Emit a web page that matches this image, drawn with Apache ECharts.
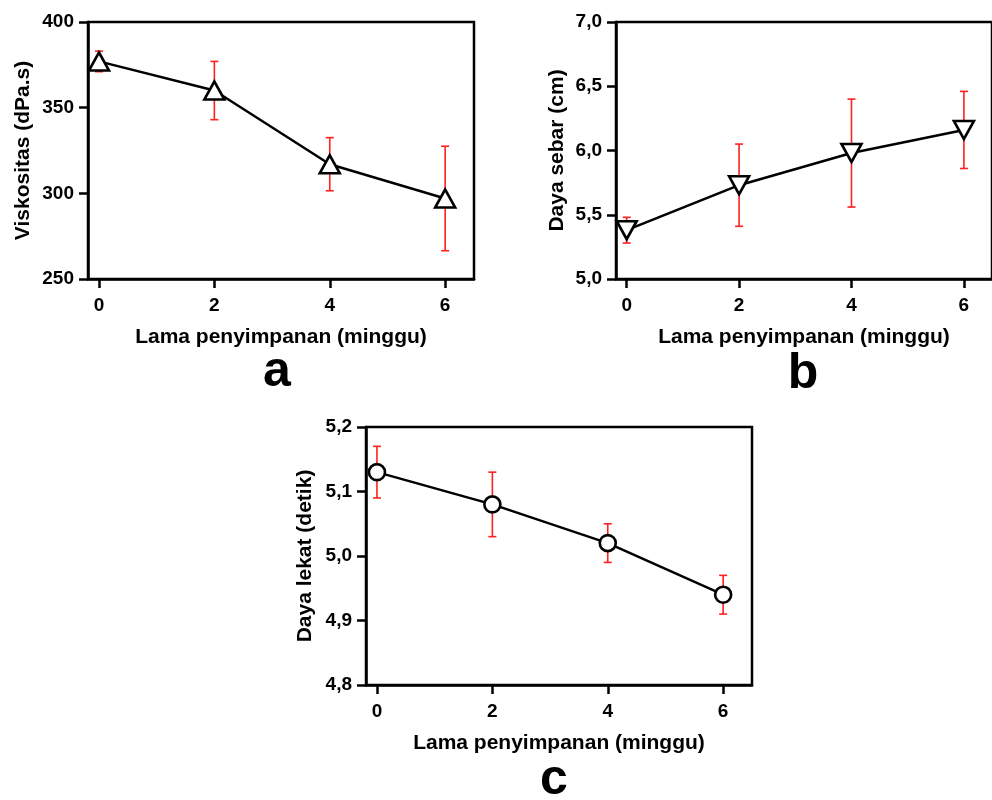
<!DOCTYPE html>
<html>
<head>
<meta charset="utf-8">
<script src="https://cdn.jsdelivr.net/npm/echarts@6/dist/echarts.min.js"></script>
<style>
html,body{margin:0;padding:0;background:#fff;}
#chart{width:992px;height:800px;}
</style>
</head>
<body>
<div id="chart"></div>
<script>
// ---- data ----
const weeks = [0, 2, 4, 6];
const xTickValues = [0, 2, 4, 6];
const xTitle = 'Lama penyimpanan (minggu)';

const viskositas = [377, 360, 317, 297];
const viskositasSD = [6, 17, 15.5, 30.5];
const viskositasTitle = 'Viskositas (dPa.s)';

const dayaSebar = [5.38, 5.73, 5.98, 6.16];
const dayaSebarSD = [0.10, 0.32, 0.42, 0.30];
const dayaSebarTitle = 'Daya sebar (cm)';

const dayaLekat = [5.13, 5.08, 5.02, 4.94];
const dayaLekatSD = [0.04, 0.05, 0.03, 0.03];
const dayaLekatTitle = 'Daya lekat (detik)';

const panelLetters = ['a', 'b', 'c'];

// ---- chart ----
const FONT = '"Liberation Sans", Arial, sans-serif';
const chart = echarts.init(document.getElementById('chart'), null, {renderer: 'canvas'});

function comma(v) { return v.toFixed(1).replace('.', ','); }

function makeX(gi) {
  return {
    type: 'value', gridIndex: gi, min: -0.19, max: 6.5,
    name: xTitle, nameLocation: 'middle', nameGap: 48,
    nameTextStyle: {fontFamily: FONT, fontWeight: 'bold', fontSize: 21, color: '#000'},
    axisLine: {show: true, onZero: false, lineStyle: {color: '#000', width: 2.5}},
    axisTick: {show: true, length: 9, lineStyle: {color: '#000', width: 2.5}, customValues: xTickValues},
    axisLabel: {fontFamily: FONT, fontWeight: 'bold', fontSize: 19, color: '#000', margin: 17, customValues: xTickValues},
    splitLine: {show: false}
  };
}
function makeY(gi, min, max, interval, name, gap, fmt) {
  return {
    type: 'value', gridIndex: gi, min: min, max: max, interval: interval,
    name: name, nameLocation: 'middle', nameGap: gap, nameRotate: 90,
    nameTextStyle: {fontFamily: FONT, fontWeight: 'bold', fontSize: 21, color: '#000'},
    axisLine: {show: true, onZero: false, lineStyle: {color: '#000', width: 2.5}},
    axisTick: {show: true, length: 9, lineStyle: {color: '#000', width: 2.5}},
    axisLabel: {fontFamily: FONT, fontWeight: 'bold', fontSize: 19, color: '#000', margin: 14, formatter: fmt},
    splitLine: {show: false}
  };
}

function errData(means, sds) {
  return weeks.map((w, i) => [w, means[i] - sds[i], means[i] + sds[i]]);
}
function errSeries(gi, means, sds) {
  return {
    type: 'custom', xAxisIndex: gi, yAxisIndex: gi, z: 1,
    data: errData(means, sds),
    renderItem: function (params, api) {
      const x = api.value(0);
      const lo = api.coord([x, api.value(1)]);
      const hi = api.coord([x, api.value(2)]);
      const hw = 4;
      const st = {stroke: '#ff2020', lineWidth: 1.6};
      return {
        type: 'group',
        children: [
          {type: 'line', shape: {x1: lo[0], y1: lo[1], x2: hi[0], y2: hi[1]}, style: st},
          {type: 'line', shape: {x1: lo[0] - hw, y1: lo[1], x2: lo[0] + hw, y2: lo[1]}, style: st},
          {type: 'line', shape: {x1: hi[0] - hw, y1: hi[1], x2: hi[0] + hw, y2: hi[1]}, style: st}
        ]
      };
    }
  };
}
function lineSeries(gi, means, symbol, size, rotate) {
  return {
    type: 'line', xAxisIndex: gi, yAxisIndex: gi, z: 3,
    data: weeks.map((w, i) => [w, means[i]]),
    symbol: symbol, symbolSize: size, symbolRotate: rotate || 0,
    showSymbol: true,
    lineStyle: {color: '#000', width: 2.5},
    itemStyle: {color: '#fff', borderColor: '#000', borderWidth: 2.6},
    emphasis: {disabled: true},
    animation: false
  };
}

const gridBase = {show: true, borderColor: '#000', borderWidth: 2.5, backgroundColor: 'transparent', containLabel: false};

const option = {
  backgroundColor: '#fff',
  animation: false,
  grid: [
    Object.assign({left: 88, top: 22, right: 518, bottom: 521}, gridBase),
    Object.assign({left: 616, top: 22, right: -10, bottom: 521}, gridBase),
    Object.assign({left: 366, top: 427, right: 240, bottom: 115}, gridBase)
  ],
  xAxis: [makeX(0), makeX(1), makeX(2)],
  yAxis: [
    makeY(0, 250, 400, 50, viskositasTitle, 54, v => String(v)),
    makeY(1, 5.0, 7.0, 0.5, dayaSebarTitle, 48, comma),
    makeY(2, 4.8, 5.2, 0.1, dayaLekatTitle, 50, comma)
  ],
  series: [
    errSeries(0, viskositas, viskositasSD),
    lineSeries(0, viskositas, 'triangle', [20, 18], 0),
    errSeries(1, dayaSebar, dayaSebarSD),
    lineSeries(1, dayaSebar, 'triangle', [20, 18], 180),
    errSeries(2, dayaLekat, dayaLekatSD),
    lineSeries(2, dayaLekat, 'circle', 16, 0)
  ],
  graphic: [
    {type: 'text', style: {text: panelLetters[0], x: 277, y: 372, fontSize: 50, fontWeight: 'bold', fontFamily: FONT, fill: '#000', textAlign: 'center', textVerticalAlign: 'middle'}},
    {type: 'text', style: {text: panelLetters[1], x: 803, y: 374, fontSize: 50, fontWeight: 'bold', fontFamily: FONT, fill: '#000', textAlign: 'center', textVerticalAlign: 'middle'}},
    {type: 'text', style: {text: panelLetters[2], x: 554, y: 780, fontSize: 50, fontWeight: 'bold', fontFamily: FONT, fill: '#000', textAlign: 'center', textVerticalAlign: 'middle'}}
  ]
};
chart.setOption(option);
</script>
</body>
</html>
